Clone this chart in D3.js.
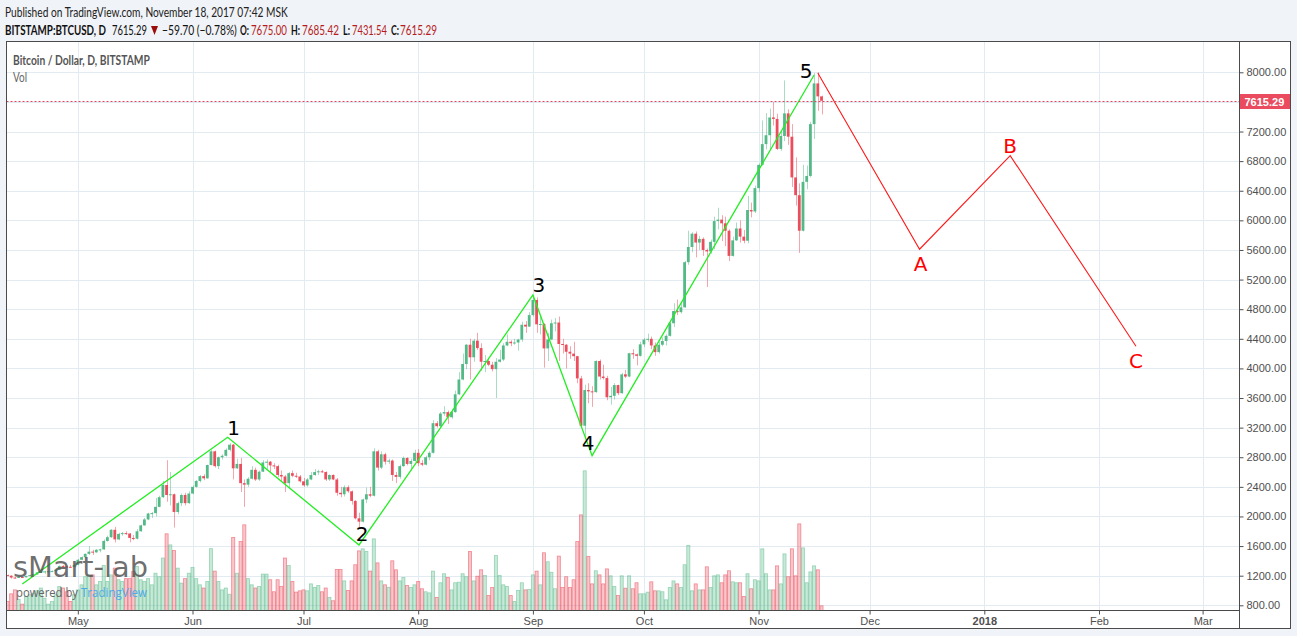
<!DOCTYPE html>
<html><head><meta charset="utf-8">
<script src="https://cdn.jsdelivr.net/npm/d3@7"></script>
<style>
html,body{margin:0;padding:0;background:#f0f3f7;}
svg{display:block;}
</style></head><body>
<svg id="c" width="1297" height="636"></svg>
<script>
// ---------------- DATA ----------------
const startDate = "2017-04-12";
const opens = [1208,1200,1175,1172,1182,1178,1195,1208,1218,1245,1255,1258,1260,1262,1280,1330,1325,1320,1318,1345,
1415,1450,1495,1525,1515,1550,1555,1670,1720,1820,1690,1765,1775,1770,1710,1700,1800,1880,1960,2040,
2045,2130,2260,2425,2290,2300,2060,2180,2290,2180,2310,2400,2480,2545,2515,2695,2880,2680,2800,2820,
2900,2970,2650,2710,2450,2430,2510,2630,2500,2605,2730,2740,2690,2680,2560,2540,2450,2585,2550,2540,
2475,2420,2500,2560,2600,2610,2600,2500,2560,2500,2320,2300,2395,2340,2210,1975,1930,2230,2300,2280,
2880,2660,2840,2740,2755,2560,2535,2680,2790,2710,2750,2860,2720,2700,2800,2860,3260,3220,3390,3410,
3340,3410,3650,3850,4060,4320,4150,4375,4275,4090,4100,4050,3990,4090,4120,4310,4360,4340,4350,4390,
4590,4565,4720,4925,4595,4600,4270,4390,4610,4620,4330,4320,4225,4200,4165,3865,3226,3708,3690,3680,
4100,3890,3870,3610,3630,3775,3665,3920,3890,4205,4190,4170,4325,4390,4400,4310,4220,4320,4370,4440,
4610,4775,4760,4825,5435,5640,5820,5700,5750,5600,5580,5710,5990,6010,5960,5860,5520,5730,5890,5780,
5725,6140,6120,6435,6750,7030,7150,7390,7370,6965,7140,7445,7130,6580,6340,5860,6520,6600,7300,7850,7675];
const highs = [1215,1205,1185,1190,1186,1200,1215,1225,1250,1262,1265,1265,1270,1285,1340,1345,1335,1345,1355,1425,
1460,1500,1600,1550,1560,1565,1690,1740,1830,1860,1780,1790,1800,1775,1750,1830,1890,1980,2050,2060,
2250,2280,2480,2760,2600,2310,2200,2310,2320,2340,2420,2490,2560,2570,2700,2900,2890,2810,2840,2920,
2990,2980,2780,2790,2500,2530,2680,2660,2620,2760,2770,2750,2720,2700,2620,2560,2600,2620,2590,2560,
2520,2520,2600,2640,2630,2630,2610,2570,2570,2520,2400,2420,2420,2350,2220,2050,2240,2390,2400,2920,
2900,2880,2860,2780,2770,2600,2700,2810,2800,2780,2900,2910,2760,2820,2880,3300,3290,3410,3490,3430,
3450,3700,3950,4200,4330,4400,4400,4480,4340,4180,4140,4090,4140,4250,4340,4460,4380,4400,4400,4630,
4640,4760,4990,4960,4700,4610,4480,4660,4680,4700,4400,4330,4300,4360,4170,3900,3780,3800,3760,4110,
4120,4050,3900,3750,3800,3780,3940,3980,4210,4260,4200,4360,4410,4470,4430,4350,4360,4420,4460,4640,
4880,4930,4880,5450,5860,5840,5850,5790,5770,5620,5740,6050,6170,6070,6050,5880,5780,5970,6000,5870,
6330,6240,6470,6770,7350,7450,7510,7600,7440,7220,7890,7500,7300,6850,6500,6750,6740,7330,7990,8000,7685];
const lows = [1195,1160,1165,1170,1172,1175,1190,1200,1215,1240,1225,1245,1250,1255,1278,1315,1310,1310,1315,1340,
1410,1445,1480,1480,1510,1515,1550,1660,1710,1650,1680,1740,1750,1650,1680,1690,1795,1875,1950,1980,
2000,2125,2250,2200,2150,1850,2030,2140,2150,2170,2300,2390,2460,2490,2510,2690,2660,2640,2770,2810,
2880,2500,2640,2330,2130,2400,2500,2480,2480,2600,2640,2600,2640,2530,2480,2330,2380,2530,2520,2460,
2400,2400,2490,2550,2560,2590,2480,2480,2490,2280,2260,2270,2320,2160,1960,1840,1920,2180,2260,2270,
2620,2640,2700,2710,2480,2450,2510,2670,2690,2620,2740,2680,2680,2690,2760,2850,3200,3210,3360,3250,
3320,3400,3640,3840,3990,3850,4090,4250,3970,3950,4030,3960,3600,4080,4100,4300,4300,4320,4240,4360,
4480,4560,4700,4480,4460,4010,4100,4380,4500,4100,4200,4000,4130,4100,3800,3200,3050,3530,3480,3670,
3850,3850,3570,3510,3580,3640,3660,3870,3880,4130,4040,4160,4290,4360,4260,4170,4200,4300,4310,4430,
4560,4720,4740,4820,5400,5570,5500,5600,5520,5100,5550,5610,5880,5720,5650,5450,5510,5720,5700,5690,
5690,6040,6100,6380,6740,6960,6960,7280,6950,6940,7070,7020,6450,6200,5560,5850,6420,6580,7100,7480,7432];
const closes = [1200,1175,1172,1182,1178,1195,1208,1218,1245,1255,1258,1260,1262,1280,1330,1325,1320,1318,1345,1415,
1450,1495,1525,1515,1550,1555,1670,1720,1820,1690,1765,1775,1770,1710,1700,1800,1880,1960,2040,2045,
2130,2260,2425,2290,2300,2060,2180,2290,2180,2310,2400,2480,2545,2515,2695,2880,2680,2800,2820,2900,
2970,2650,2710,2450,2430,2510,2630,2500,2605,2730,2740,2690,2680,2560,2540,2450,2585,2550,2540,2475,
2420,2500,2560,2600,2610,2600,2500,2560,2500,2320,2300,2395,2340,2210,1975,1930,2230,2300,2280,2880,
2660,2840,2740,2755,2560,2535,2680,2790,2710,2750,2860,2720,2700,2800,2860,3260,3220,3390,3410,3340,
3410,3650,3850,4060,4320,4150,4375,4275,4090,4100,4050,3990,4090,4120,4310,4360,4340,4350,4390,4590,
4565,4720,4925,4595,4600,4270,4390,4610,4620,4330,4320,4225,4200,4165,3865,3226,3708,3690,3680,4100,
3890,3870,3610,3630,3775,3665,3920,3890,4205,4190,4170,4325,4390,4400,4310,4220,4320,4370,4440,4610,
4775,4760,4825,5435,5640,5820,5700,5750,5600,5580,5710,5990,6010,5960,5860,5520,5730,5890,5780,5725,
6140,6120,6435,6750,7030,7150,7390,7370,6965,7140,7445,7130,6580,6340,5860,6520,6600,7300,7850,7675,7615.29];
const volumes = [4.8,8.9,11,6,3.4,7.5,8.4,9.2,10.5,12,6.6,3.4,4.8,8.4,12.8,12,10,4.8,8.4,11,
13.7,18,19,19,13.7,15.5,24,15.5,19,22.6,16.4,15.5,17,17,20.8,23.5,16.4,15.5,17,13.7,
19.9,18,28,40.9,35,32,22.6,14.6,17,19.9,23,17,13.7,12,15.5,33,21,15.5,11,12,
8.7,39,19.9,36.8,45.7,17,13.7,12,12.8,19.4,19.4,16.4,10,16.4,12.8,28,24,15.5,9.8,10.5,
11,10.5,14.2,12.3,13.3,10,12,7,5.2,21.9,21.9,15.8,10.7,15.8,24.4,31.8,32.9,31.5,21,38.2,
25.4,15.8,13.7,12.4,26.5,21.7,15.8,17.6,13.3,12.3,13.7,15.5,11.6,10,9.4,21,7,14.8,19.6,17.6,
11,14.8,15.1,19.6,18,31.5,15.8,18.3,21.7,18.7,8,12.3,29.3,18.7,13.7,12.8,8,4.8,10.7,14.8,
11,11.2,19,21,13.7,30.8,26,20.4,11.6,29,12.3,18,12.3,16.4,36.8,51,74.5,28.8,14.2,21.2,
19,14.2,22.2,18.5,12.8,8,18.5,11.9,18.5,11.6,14.8,8.9,8.9,9.8,15.3,10.5,10.5,10,5.7,12.3,
15.8,14.2,12.3,24.4,34.7,10.5,14.2,11,11,23.3,12.3,18.5,19,14.8,19,21.2,15.3,14.8,14.8,7.5,
19.6,11.6,16.4,15.8,32.9,19.6,11,11,23.8,14.2,30.2,18,32.9,18.5,46.2,33.4,14.8,20.6,23.8,21.7,2.5];
const priceTicks = [800,1200,1600,2000,2400,2800,3200,3600,4000,4400,4800,5200,5600,6000,6400,6800,7200,7600,8000];
const monthTickDates = ["2017-05-01","2017-06-01","2017-07-01","2017-08-01","2017-09-01","2017-10-01","2017-11-01","2017-12-01","2018-01-01","2018-02-01","2018-03-01"];
const monthTickLabels = ["May","Jun","Jul","Aug","Sep","Oct","Nov","Dec","2018","Feb","Mar"];
const waveDates = ["2017-04-16T00:00:00Z","2017-06-10T12:00:00Z","2017-07-16T00:00:00Z","2017-09-01T00:00:00Z","2017-09-17T00:00:00Z","2017-11-16T00:00:00Z"];
const wavePrices = [1088,3070,1615,4992,2821,7964];
const waveLabels = ["","1","2","3","4","5"];
const corrDates = ["2017-11-17T00:00:00Z","2017-12-14T12:00:00Z","2018-01-08T00:00:00Z","2018-02-11T00:00:00Z"];
const corrPrices = [7990,5610,6875,4300];
const corrLabels = ["","A","B","C"];
const lastPrice = 7615.29;

// ---------------- LAYOUT ----------------
const L = 6.5, T = 41.5, R = 1290.5, B = 628.5, AX = 1239.5, AY = 610.5;
const UP = "#53b987", DN = "#eb4d5c";
const svg = d3.select("#c");
const parse = d3.isoParse;

const x = d3.scaleUtc().domain([parse("2017-04-12T00:00:00Z"), parse("2018-03-01T00:00:00Z")]).range([7.5, 1202.6]);
const y = d3.scaleLinear().domain([800, 8000]).range([605.3, 72.3]);
const yv = d3.scaleLinear().domain([0, 80]).range([AY, AY - 150]);

const start = parse(startDate + "T00:00:00Z");
const data = closes.map((c, i) => ({
  date: d3.utcDay.offset(start, i), o: opens[i], h: highs[i], l: lows[i], c: c, v: volumes[i]
}));

svg.append("rect").attr("x", L).attr("y", T).attr("width", R - L).attr("height", B - T).attr("fill", "#fff");
svg.append("defs").append("clipPath").attr("id", "clip")
  .append("rect").attr("x", L).attr("y", T).attr("width", AX - L).attr("height", AY - T);

// grid
const grid = svg.append("g").attr("stroke", "#e3ebf2").attr("stroke-width", 1);
grid.selectAll("line.h").data(priceTicks).join("line")
  .attr("x1", L).attr("x2", AX).attr("y1", d => Math.round(y(d)) + 0.5).attr("y2", d => Math.round(y(d)) + 0.5);
grid.selectAll("line.v").data(monthTickDates).join("line")
  .attr("y1", T).attr("y2", AY).attr("x1", d => Math.round(x(parse(d + "T00:00:00Z"))) + 0.5).attr("x2", d => Math.round(x(parse(d + "T00:00:00Z"))) + 0.5);

const plot = svg.append("g").attr("clip-path", "url(#clip)");

// volume
const bw = 3.7;
plot.append("g").selectAll("rect").data(data).join("rect")
  .attr("x", d => x(d.date) - bw / 2 + 0.3)
  .attr("y", d => yv(d.v))
  .attr("width", bw - 0.6)
  .attr("height", d => AY - yv(d.v))
  .attr("fill", d => d.c >= d.o ? "rgba(83,185,135,0.32)" : "rgba(235,77,92,0.32)")
  .attr("stroke", d => d.c >= d.o ? "rgba(83,185,135,0.55)" : "rgba(235,77,92,0.6)")
  .attr("stroke-width", 0.8);

// candles
const cg = plot.append("g");
cg.selectAll("line").data(data).join("line")
  .attr("x1", d => Math.round(x(d.date)) + 0.5).attr("x2", d => Math.round(x(d.date)) + 0.5)
  .attr("y1", d => y(d.h)).attr("y2", d => y(d.l))
  .attr("stroke", d => d.c >= d.o ? UP : DN).attr("stroke-opacity", 0.5).attr("stroke-width", 1);
cg.selectAll("rect").data(data).join("rect")
  .attr("x", d => x(d.date) - 1.4)
  .attr("width", 2.8)
  .attr("y", d => y(Math.max(d.o, d.c)))
  .attr("height", d => Math.max(1, Math.abs(y(d.o) - y(d.c))))
  .attr("fill", d => d.c >= d.o ? UP : DN);

// waves
const wave = waveDates.map((d, i) => ({ date: parse(d), p: wavePrices[i], t: waveLabels[i] }));
const corr = corrDates.map((d, i) => ({ date: parse(d), p: corrPrices[i], t: corrLabels[i] }));
const lineGen = d3.line().x(d => x(d.date)).y(d => y(d.p));
plot.append("path").attr("d", lineGen(wave)).attr("fill", "none").attr("stroke", "#22ee22").attr("stroke-width", 1.3);
plot.append("path").attr("d", lineGen(corr)).attr("fill", "none").attr("stroke", "#ff1a1a").attr("stroke-width", 1.1);

const waveOff = [[0,0],[6,-9],[3,-11],[6,-10],[-4,-13],[-8,-4]];
const corrOff = [[0,0],[1,15],[0,-10],[0,15]];
svg.append("g").selectAll("text").data(wave.filter(d => d.t)).join("text")
  .attr("x", d => x(d.date) + waveOff[waveLabels.indexOf(d.t)][0])
  .attr("y", d => y(d.p) + waveOff[waveLabels.indexOf(d.t)][1])
  .attr("text-anchor", "middle").attr("dominant-baseline", "central")
  .attr("font-family", "DejaVu Sans, sans-serif").attr("font-size", 20).attr("fill", "#000")
  .text(d => d.t);
svg.append("g").selectAll("text").data(corr.filter(d => d.t)).join("text")
  .attr("x", d => x(d.date) + corrOff[corrLabels.indexOf(d.t)][0])
  .attr("y", d => y(d.p) + corrOff[corrLabels.indexOf(d.t)][1])
  .attr("text-anchor", "middle").attr("dominant-baseline", "central")
  .attr("font-family", "DejaVu Sans, sans-serif").attr("font-size", 20).attr("fill", "#ff0000")
  .text(d => d.t);

// last price line
svg.append("line").attr("x1", L).attr("x2", AX).attr("y1", Math.round(y(lastPrice)) + 0.5).attr("y2", Math.round(y(lastPrice)) + 0.5)
  .attr("stroke", "#e3405a").attr("stroke-width", 1).attr("stroke-dasharray", "2,2");

// helper: text squeezed horizontally to a target width via transform
function fitText(parent, str, xp, yp, w, attrs) {
  const t = parent.append("text").attr("x", 0).attr("y", 0).text(str);
  Object.entries(attrs).forEach(([k, v]) => t.attr(k, v));
  const nat = t.node().getComputedTextLength();
  t.attr("transform", `translate(${xp},${yp}) scale(${w / nat},1)`);
  return t;
}

// watermark
fitText(svg, "sMart-lab", 13, 577, 135, { "font-family": "DejaVu Sans, sans-serif", "font-size": 29, fill: "#555", "fill-opacity": 0.85 });
fitText(svg, "powered by", 16, 597, 62, { "font-family": "Open Sans, sans-serif", "font-size": 12, fill: "#666" });
fitText(svg, "TradingView", 81, 597, 66, { "font-family": "Open Sans, sans-serif", "font-size": 12, fill: "#4fa8e8" });

// axes
const yAxis = d3.axisRight(y).tickValues(priceTicks).tickFormat(d3.format(".2f")).tickSize(4).tickPadding(3);
const ya = svg.append("g").attr("transform", `translate(${AX},0)`).call(yAxis);
ya.select(".domain").remove();
ya.selectAll("text").attr("font-family", "Liberation Sans, Arial, sans-serif").attr("font-size", 11).attr("fill", "#4f4f4f");
ya.selectAll("line").attr("stroke", "#4f4f4f");

const xAxis = d3.axisBottom(x).tickValues(monthTickDates.map(d => parse(d + "T00:00:00Z")))
  .tickFormat((d, i) => monthTickLabels[i]).tickSize(4).tickPadding(3);
const xa = svg.append("g").attr("transform", `translate(0,${AY})`).call(xAxis);
xa.select(".domain").remove();
xa.selectAll("text").attr("font-family", "Liberation Sans, Arial, sans-serif").attr("font-size", 11).attr("fill", "#4f4f4f")
  .attr("font-weight", (d, i) => monthTickLabels[i] === "2018" ? "bold" : "normal");
xa.selectAll("line").attr("stroke", "#4f4f4f");

// price label
svg.append("rect").attr("x", AX).attr("y", Math.round(y(lastPrice)) - 7).attr("width", R - AX).attr("height", 15).attr("fill", "#ea4b5f");
svg.append("text").attr("x", AX + 5).attr("y", Math.round(y(lastPrice)) + 4.5).attr("font-family", "Liberation Sans, Arial, sans-serif")
  .attr("font-size", 11).attr("font-weight", "bold").attr("fill", "#fff").text(d3.format(".2f")(lastPrice));

// frame
const fr = svg.append("g").attr("stroke", "#4a4a4a").attr("fill", "none").attr("stroke-width", 1);
fr.append("rect").attr("x", L).attr("y", T).attr("width", R - L).attr("height", B - T);
fr.append("line").attr("x1", L).attr("x2", AX).attr("y1", AY).attr("y2", AY);
fr.append("line").attr("x1", AX).attr("x2", AX).attr("y1", T).attr("y2", B);

// legend
fitText(svg, "Bitcoin / Dollar, D, BITSTAMP", 13, 65, 137, { "font-family": "Lato, sans-serif", "font-size": 13, "font-weight": "bold", fill: "#555" });
fitText(svg, "Vol", 13, 82, 14, { "font-family": "Lato, sans-serif", "font-size": 13, fill: "#666" });

// header
fitText(svg, "Published on TradingView.com, November 18, 2017 07:42 MSK", 5, 17, 283, { "font-family": "Lato, sans-serif", "font-size": 14, fill: "#222" });
const segs = [
  { t: "BITSTAMP:BTCUSD, D", x: 5, w: 101, b: true, c: "#111" },
  { t: "7615.29", x: 112, w: 35, b: false, c: "#111" },
  { t: "\u221259.70 (\u22120.78%)", x: 162, w: 75, b: false, c: "#111" },
  { t: "O:", x: 240, w: 9, b: true, c: "#111" },
  { t: "7675.00", x: 251, w: 36, b: false, c: "#b71c1c" },
  { t: "H:", x: 291, w: 9, b: true, c: "#111" },
  { t: "7685.42", x: 302, w: 37, b: false, c: "#b71c1c" },
  { t: "L:", x: 343, w: 7, b: true, c: "#111" },
  { t: "7431.54", x: 352, w: 35, b: false, c: "#b71c1c" },
  { t: "C:", x: 391, w: 8, b: true, c: "#111" },
  { t: "7615.29", x: 400, w: 37, b: false, c: "#b71c1c" }
];
const hg = svg.append("g");
segs.forEach(s => fitText(hg, s.t, s.x, 35, s.w, { "font-family": "Lato, sans-serif", "font-size": 14, "font-weight": s.b ? "bold" : "normal", fill: s.c }));
svg.append("path").attr("d", "M151,26 L158,26 L154.5,35 Z").attr("fill", "#9b0d0d");
</script>
</body></html>
